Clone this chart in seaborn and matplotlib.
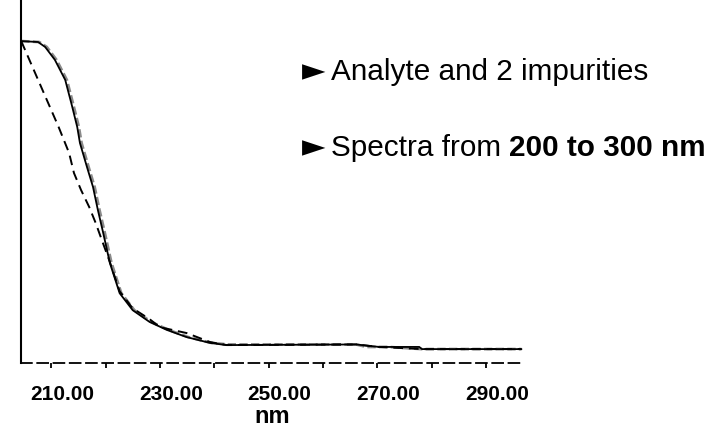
import numpy as np
import pandas as pd
import matplotlib
matplotlib.use("Agg")
import matplotlib.pyplot as plt
import seaborn as sns

# Spectra (wavelength in nm, normalised absorbance)
analyte_nm = [202.5, 205.6, 206.9, 208.7, 210.6, 211.8, 212.8, 213.3, 214.6, 215.7,
              216.6, 217.5, 218.8, 220.6, 223.0, 226.1, 229.3, 232.9, 237.2, 240.3,
              264.1, 268.3, 275.7, 276.2, 294.5]
analyte_abs = [1.000, 0.997, 0.981, 0.939, 0.874, 0.793, 0.722, 0.670, 0.592, 0.528,
               0.453, 0.385, 0.282, 0.184, 0.129, 0.091, 0.065, 0.042, 0.023, 0.016,
               0.018, 0.010, 0.010, 0.003, 0.003]

imp1_nm = [202.5, 205.8, 207.2, 209.0, 210.9, 212.1, 213.1, 213.6, 214.9, 216.0,
           216.9, 217.8, 219.1, 220.9, 223.3, 226.4, 229.6, 233.2, 237.5, 240.6,
           264.1, 266.0, 270.0, 276.2, 294.5]
imp1_abs = [1.000, 0.997, 0.981, 0.939, 0.874, 0.793, 0.722, 0.670, 0.592, 0.528,
            0.453, 0.385, 0.282, 0.184, 0.129, 0.091, 0.065, 0.042, 0.023, 0.018,
            0.018, 0.010, 0.010, 0.003, 0.003]

imp2_nm = [202.5, 209.4, 211.3, 212.2, 213.5, 215.0, 216.2, 217.2, 218.8, 220.6,
           223.0, 226.1, 228.0, 232.9, 237.2, 240.3, 264.1, 268.3, 276.2, 294.5]
imp2_abs = [1.000, 0.721, 0.638, 0.573, 0.518, 0.463, 0.411, 0.362, 0.285, 0.190,
            0.135, 0.100, 0.074, 0.055, 0.026, 0.016, 0.018, 0.010, 0.003, 0.003]

label_ticks = [210, 230, 250, 270, 290]
minor_ticks = [208, 218, 228, 238, 248, 258, 268, 278, 288]

analyte = pd.DataFrame({'nm': analyte_nm, 'abs': analyte_abs})
imp1 = pd.DataFrame({'nm': imp1_nm, 'abs': imp1_abs})
imp2 = pd.DataFrame({'nm': imp2_nm, 'abs': imp2_abs})

sns.set_style("white")
plt.rcParams['font.family'] = ['Liberation Sans', 'DejaVu Sans']
plt.rcParams['text.color'] = 'black'
plt.rcParams['axes.labelcolor'] = 'black'
plt.rcParams['xtick.color'] = 'black'

fig = plt.figure(figsize=(7.25, 4.29), dpi=100)
ax = fig.add_axes([21 / 725, 66 / 429, 502 / 725, 363 / 429])

sns.lineplot(data=imp1, x='nm', y='abs', ax=ax, color='#8a8a8a', linewidth=2.0,
             linestyle=(0, (3, 1.2)), sort=False)
sns.lineplot(data=analyte, x='nm', y='abs', ax=ax, color='black', linewidth=1.3, sort=False)
sns.lineplot(data=imp2, x='nm', y='abs', ax=ax, color='black', linewidth=1.4,
             linestyle=(0, (5, 3)), sort=False)

ax.set_xlim(202.46, 294.78)
ax.set_ylim(-0.042, 1.133)

# axes look
for side in ['top', 'right']:
    ax.spines[side].set_visible(False)
ax.spines['left'].set_linestyle((0, (1, 1)))
ax.spines['left'].set_linewidth(1.5)
ax.spines['left'].set_color('black')
ax.spines['bottom'].set_linestyle((0, (6, 3)))
ax.spines['bottom'].set_linewidth(1.3)
ax.spines['bottom'].set_color('black')

ax.set_yticks([])
ax.set_xticks(label_ticks)
ax.set_xticklabels([f"{t:.2f}" for t in label_ticks], fontweight='bold', fontsize=15)
ax.set_xticks(minor_ticks, minor=True)
ax.tick_params(axis='x', which='major', length=0, pad=16)
ax.tick_params(axis='x', which='minor', length=3.5, width=1.3, direction='out', color='black', bottom=True)
ax.set_xlabel('nm', fontweight='bold', fontsize=17, labelpad=0.5)
ax.set_ylabel('')

# bullet notes
for ytxt in [72, 148]:
    fig.text(302 / 725, 1 - ytxt / 429, '\u25BA', fontsize=22, va='center', ha='left',
             family=['DejaVu Sans'])
fig.text(331 / 725, 1 - 72 / 429, 'Analyte and 2 impurities', fontsize=21.4, va='center', ha='left')
t1 = fig.text(331 / 725, 1 - 148 / 429, 'Spectra from ', fontsize=21.4, va='center', ha='left')
fig.canvas.draw()
bb = t1.get_window_extent()
fig.text(bb.x1 / 725, 1 - 148 / 429, '200 to 300 nm', fontsize=21.4, fontweight='bold',
         va='center', ha='left')

fig.savefig('out.png', dpi=100)
